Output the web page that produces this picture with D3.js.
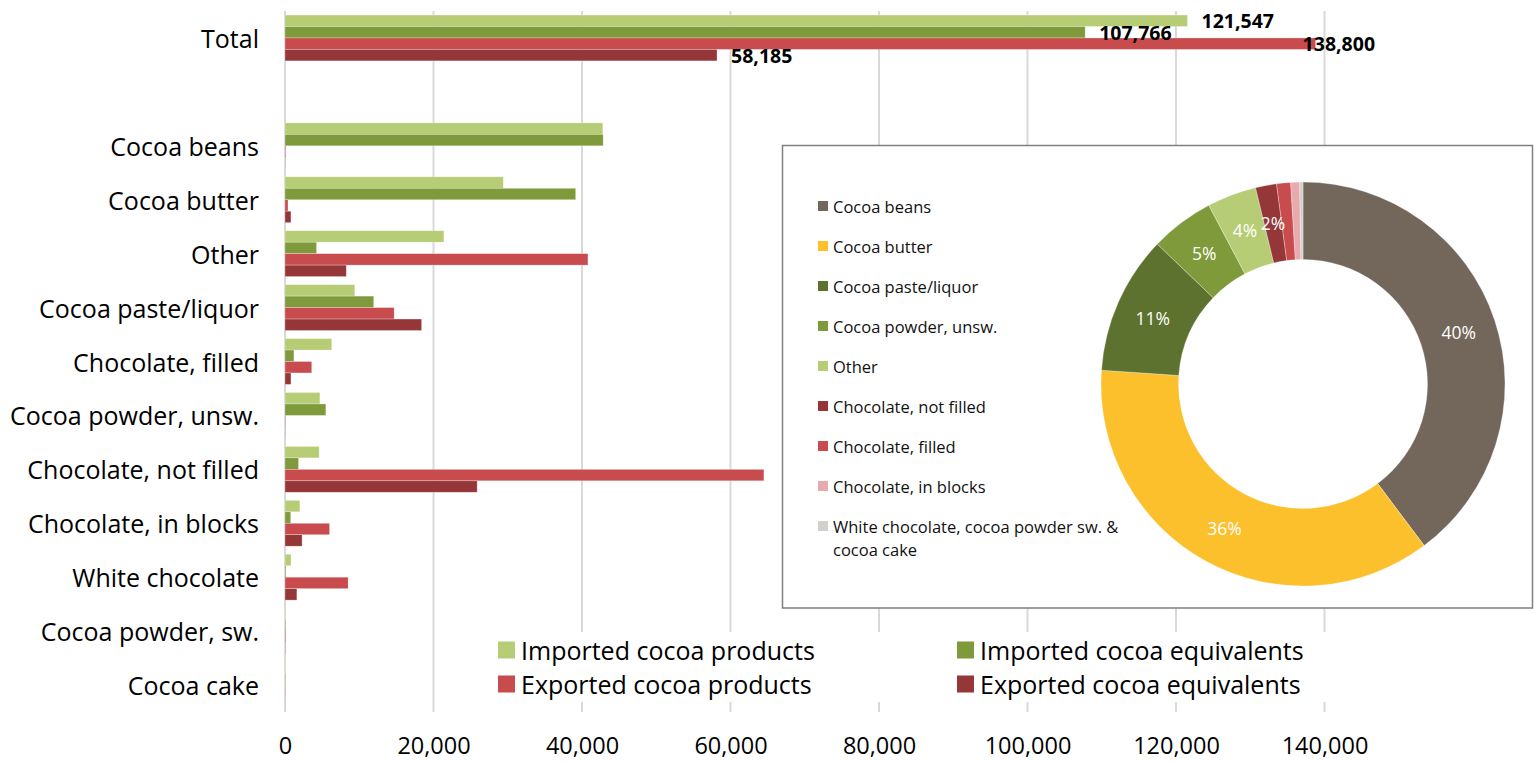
<!DOCTYPE html>
<html>
<head>
<meta charset="utf-8">
<script src="https://cdn.jsdelivr.net/npm/d3@7"></script>
<style>
  html, body { margin: 0; padding: 0; background: #fff; }
  svg { display: block; font-family: "Open Sans", "DejaVu Sans", sans-serif; }
</style>
</head>
<body>
<svg id="chart" width="1534" height="762"></svg>
<script>
// ---------- DATA ----------
const seriesNames = ["Imported cocoa products", "Imported cocoa equivalents", "Exported cocoa products", "Exported cocoa equivalents"];
const totalLabel = "Total";
const totals = [121547, 107766, 138800, 58185];
const categories = ["Cocoa beans", "Cocoa butter", "Other", "Cocoa paste/liquor", "Chocolate, filled", "Cocoa powder, unsw.", "Chocolate, not filled", "Chocolate, in blocks", "White chocolate", "Cocoa powder, sw.", "Cocoa cake"];
const importedProducts    = [42800, 29400, 21400,  9400, 6300, 4700,  4600, 2000,  800,  80, 60];
const importedEquivalents = [42850, 39150,  4250, 11950, 1200, 5500,  1820,  770,  120, 100, 60];
const exportedProducts    = [  100,   400, 40800, 14700, 3600,   60, 64500, 6000, 8500,  90, 50];
const exportedEquivalents = [   30,   800,  8250, 18400,  800,   30, 25880, 2300, 1600,  40, 20];
const xTicks = [0, 20000, 40000, 60000, 80000, 100000, 120000, 140000];

// Donut: share of imported cocoa equivalents
const pieCategories = ["Cocoa beans", "Cocoa butter", "Cocoa paste/liquor", "Cocoa powder, unsw.", "Other", "Chocolate, not filled", "Chocolate, filled", "Chocolate, in blocks", "White chocolate, cocoa powder sw. & cocoa cake"];
const pieMembers = [["Cocoa beans"], ["Cocoa butter"], ["Cocoa paste/liquor"], ["Cocoa powder, unsw."], ["Other"], ["Chocolate, not filled"], ["Chocolate, filled"], ["Chocolate, in blocks"], ["White chocolate", "Cocoa powder, sw.", "Cocoa cake"]];

// ---------- STYLE ----------
const seriesColors = ["#b6cd75", "#7e9a3a", "#c84b4e", "#953739"];
const pieColors = ["#73665a", "#fbc02b", "#5d722e", "#7e9a3a", "#b6cd75", "#953739", "#c84b4e", "#e8aaae", "#d5cfcb"];
const totalLabelDx = [14, 14, -13, 14];

const svg = d3.select("#chart");
const seriesData = [importedProducts, importedEquivalents, exportedProducts, exportedEquivalents];

const rows = [{name: totalLabel, values: totals, total: true}, {name: "__gap", values: null}]
  .concat(categories.map((c, i) => ({name: c, values: seriesData.map(s => s[i])})));

const x = d3.scaleLinear().domain([0, 140000]).range([285, 1324.5]);
const y = d3.scaleBand().domain(rows.map(r => r.name)).range([11, 712]).paddingInner(0.15).paddingOuter(0.075);
const yi = d3.scaleBand().domain(d3.range(seriesNames.length)).range([0, y.bandwidth()]);

// gridlines
svg.append("g").selectAll("line").data(xTicks).join("line")
  .attr("x1", d => x(d)).attr("x2", d => x(d))
  .attr("y1", 11).attr("y2", 712)
  .attr("stroke", "#d9d9d9").attr("stroke-width", 2);

// x axis labels via d3 axis
const axisG = svg.append("g").attr("transform", "translate(0,734)")
  .call(d3.axisBottom(x).tickValues(xTicks).tickFormat(d3.format(",")).tickSize(0).tickPadding(0));
axisG.select(".domain").remove();
axisG.selectAll("text").attr("font-size", 23.5).attr("fill", "#000").attr("font-family", "Open Sans").attr("dy", "0.35em").attr("y", 12);

// bars
const groups = svg.append("g").selectAll("g").data(rows.filter(r => r.values)).join("g")
  .attr("transform", d => `translate(0,${y(d.name)})`);
groups.selectAll("rect").data(d => d.values.map((v, i) => ({v, i}))).join("rect")
  .attr("x", x(0))
  .attr("y", d => yi(d.i))
  .attr("width", d => x(d.v) - x(0))
  .attr("height", yi.bandwidth())
  .attr("fill", d => seriesColors[d.i])
  .attr("stroke", "#ffffff").attr("stroke-opacity", 0.45).attr("stroke-width", 0.6);

// category labels
svg.append("g").selectAll("text").data(rows.filter(r => r.values)).join("text")
  .attr("x", 259).attr("y", d => y(d.name) + y.bandwidth() / 2)
  .attr("text-anchor", "end").attr("dominant-baseline", "central")
  .attr("font-size", 25).attr("fill", "#000")
  .text(d => d.name);

// total value labels
svg.append("g").selectAll("text").data(totals).join("text")
  .attr("x", (d, i) => x(d) + totalLabelDx[i])
  .attr("y", (d, i) => y(totalLabel) + yi(i) + yi.bandwidth() / 2)
  .attr("dominant-baseline", "central")
  .attr("font-size", 19.5).attr("font-weight", "bold").attr("fill", "#000")
  .text(d => d3.format(",")(d));

// bar legend
const lg = svg.append("g");
lg.append("rect").attr("x", 490).attr("y", 632).attr("width", 842).attr("height", 70).attr("fill", "#fff");
const legPos = [[498, 650], [957, 650], [498, 684], [957, 684]];
seriesNames.forEach((n, i) => {
  const [lx, ly] = legPos[i];
  lg.append("rect").attr("x", lx).attr("y", ly - 8.5).attr("width", 17).attr("height", 17).attr("fill", seriesColors[i]);
  lg.append("text").attr("x", lx + 23).attr("y", ly).attr("dominant-baseline", "central")
    .attr("font-size", 25).attr("fill", "#000").text(n);
});

// ---------- DONUT PANEL ----------
svg.append("rect").attr("x", 782.5).attr("y", 145.5).attr("width", 750).attr("height", 462.5)
  .attr("fill", "#fff").attr("stroke", "#7f7f7f").attr("stroke-width", 1.5);

const pieValues = pieMembers.map(m => d3.sum(m, c => importedEquivalents[categories.indexOf(c)]));
const pieTotal = d3.sum(pieValues);
const pieData = d3.pie().sort(null).value(d => d)(pieValues);
const cx = 1303, cy = 384, rOut = 202, rIn = 124.5;
const arc = d3.arc().innerRadius(rIn).outerRadius(rOut);
const labelArc = d3.arc().innerRadius((rIn + rOut) / 2 + 1).outerRadius((rIn + rOut) / 2 + 1);
const pg = svg.append("g").attr("transform", `translate(${cx},${cy})`);
pg.selectAll("path").data(pieData).join("path")
  .attr("d", arc).attr("fill", (d, i) => pieColors[i])
  .attr("stroke", "#fff").attr("stroke-width", 0.5).attr("stroke-opacity", 0.6);
pg.selectAll("text").data(pieData.filter(d => d.value / pieTotal >= 0.015)).join("text")
  .attr("transform", d => `translate(${labelArc.centroid(d)})`)
  .attr("text-anchor", "middle").attr("dominant-baseline", "central")
  .attr("font-size", 17.5).attr("fill", "#fff")
  .text(d => d3.format(".0%")(d.value / pieTotal));

// donut legend
const pl = svg.append("g");
pieCategories.forEach((n, i) => {
  const ly = 206 + i * 40;
  pl.append("rect").attr("x", 818).attr("y", ly - 5).attr("width", 10).attr("height", 10).attr("fill", pieColors[i]);
  const t = pl.append("text").attr("x", 833).attr("y", ly).attr("dominant-baseline", "central")
    .attr("font-size", 16.5).attr("fill", "#111");
  // wrap
  const words = n.split(" ");
  let line = [], tspan = t.append("tspan").attr("x", 833).attr("dy", 0);
  words.forEach(w => {
    line.push(w);
    tspan.text(line.join(" "));
    if (tspan.node().getComputedTextLength() > 300 && line.length > 1) {
      line.pop();
      tspan.text(line.join(" "));
      line = [w];
      tspan = t.append("tspan").attr("x", 833).attr("dy", 23).text(w);
    }
  });
});
</script>
</body>
</html>
